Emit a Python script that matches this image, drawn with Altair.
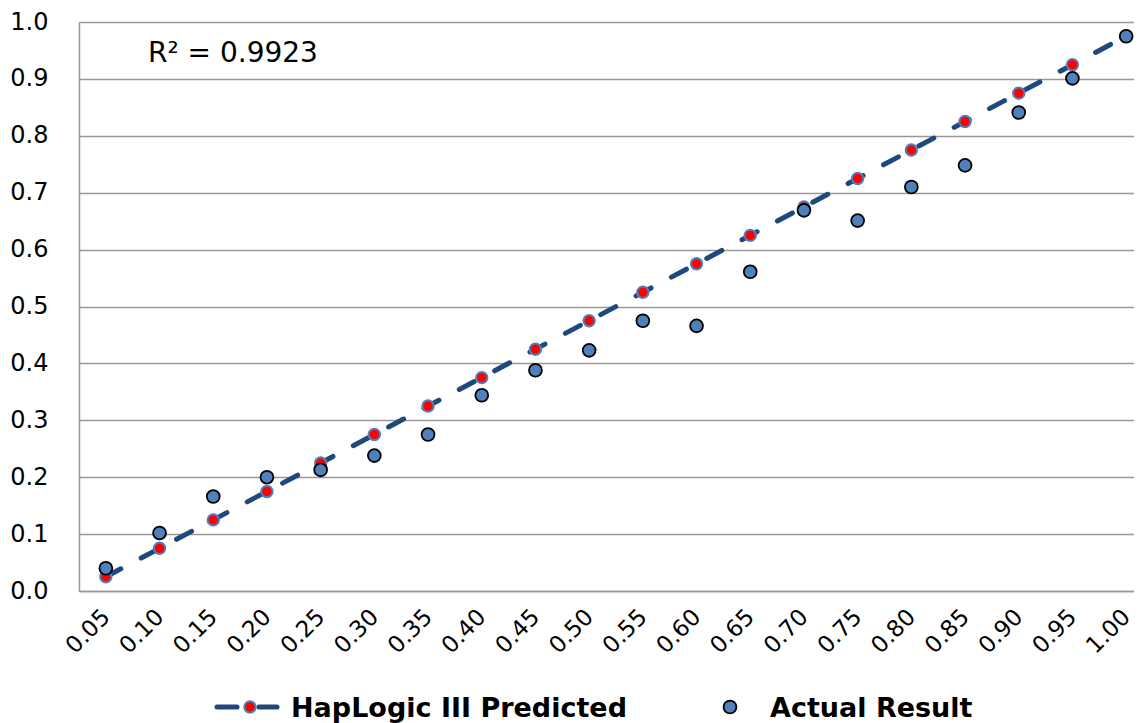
import altair as alt
import pandas as pd

# ---- data ----
categories = ["0.05", "0.10", "0.15", "0.20", "0.25", "0.30", "0.35", "0.40", "0.45", "0.50",
              "0.55", "0.60", "0.65", "0.70", "0.75", "0.80", "0.85", "0.90", "0.95", "1.00"]
predicted = [0.025, 0.075, 0.125, 0.175, 0.225, 0.275, 0.325, 0.375, 0.425, 0.475,
             0.525, 0.575, 0.625, 0.675, 0.725, 0.775, 0.825, 0.875, 0.925, 0.975]
actual = [0.040, 0.102, 0.166, 0.200, 0.213, 0.238, 0.275, 0.344, 0.388, 0.423,
          0.475, 0.466, 0.561, 0.669, 0.651, 0.710, 0.748, 0.841, 0.901, 0.975]
y_ticks = [0.0, 0.1, 0.2, 0.3, 0.4, 0.5, 0.6, 0.7, 0.8, 0.9, 1.0]
r2_label = ["R² = 0.9923"]
legend_labels = ["HapLogic III Predicted", "Actual Result"]

df = pd.DataFrame({"cat": categories, "predicted": predicted, "actual": actual})

FONT = "DejaVu Sans"
GRID = "#989898"
LINE_BLUE = "#1F497D"
MID_BLUE = "#4F81BD"
W, H = 1055, 569

x_enc = alt.X(
    "cat:O", sort=categories,
    scale=alt.Scale(type="point", range=[0, 1074], padding=0.5),
    axis=alt.Axis(title=None, labelAngle=-45, labelAlign="right", labelBaseline="middle",
                  labelPadding=22, ticks=False, domainColor=GRID, domainWidth=1.5,
                  labelFont=FONT, labelFontSize=23, labelColor="black", grid=False),
)
y_axis = alt.Axis(title=None, values=y_ticks, format=".1f", ticks=False, labelPadding=31,
                  domainColor=GRID, domainWidth=1.5, gridColor=GRID, gridWidth=1.5,
                  labelFont=FONT, labelFontSize=24, labelColor="black")
y_scale = alt.Scale(domain=[0, 1], nice=False)

base = alt.Chart(df)

line = base.mark_line(color=LINE_BLUE, strokeWidth=5, strokeDash=[17, 23], strokeCap="round").encode(
    x=x_enc, y=alt.Y("predicted:Q", scale=y_scale, axis=y_axis)
)
pred_pts = base.mark_circle(color="#FF0000", stroke=MID_BLUE, strokeWidth=2, size=130, opacity=1).encode(
    x=x_enc, y=alt.Y("predicted:Q", scale=y_scale, axis=y_axis)
)
act_pts = base.mark_circle(color=MID_BLUE, stroke="black", strokeWidth=1.8, size=165, opacity=1).encode(
    x=x_enc, y=alt.Y("actual:Q", scale=y_scale, axis=y_axis)
)

r2 = alt.Chart(pd.DataFrame({"t": r2_label})).mark_text(
    align="left", baseline="alphabetic", font=FONT, fontSize=28, color="black"
).encode(text="t:N", x=alt.value(69), y=alt.value(40))

# ---- manual legend below the axis ----
one = pd.DataFrame({"t": [legend_labels[0]]})
two = pd.DataFrame({"t": [legend_labels[1]]})
leg_dash1 = alt.Chart(one).mark_rule(color=LINE_BLUE, strokeWidth=5, strokeCap="round").encode(
    x=alt.value(138), x2=alt.value(158), y=alt.value(685))
leg_dash2 = alt.Chart(one).mark_rule(color=LINE_BLUE, strokeWidth=5, strokeCap="round").encode(
    x=alt.value(180), x2=alt.value(198), y=alt.value(685))
leg_pt1 = alt.Chart(one).mark_circle(color="#FF0000", stroke=MID_BLUE, strokeWidth=2, size=130, opacity=1).encode(
    x=alt.value(171), y=alt.value(685))
leg_txt1 = alt.Chart(one).mark_text(align="left", baseline="alphabetic", font=FONT, fontSize=27,
                                    fontWeight="bold", color="black").encode(
    text="t:N", x=alt.value(212), y=alt.value(695))
leg_pt2 = alt.Chart(two).mark_circle(color=MID_BLUE, stroke="black", strokeWidth=1.8, size=165, opacity=1).encode(
    x=alt.value(651), y=alt.value(685))
leg_txt2 = alt.Chart(two).mark_text(align="left", baseline="alphabetic", font=FONT, fontSize=27,
                                    fontWeight="bold", color="black").encode(
    text="t:N", x=alt.value(691), y=alt.value(695))

chart = alt.layer(
    line, pred_pts, act_pts, r2,
    leg_dash1, leg_dash2, leg_pt1, leg_txt1, leg_pt2, leg_txt2,
).properties(
    width=W, height=H,
    autosize=alt.AutoSizeParams(type="none"),
    padding={"left": 71, "top": 14, "right": 0, "bottom": 134},
    background="white",
).configure_view(stroke=None)

chart.save("out.html", embed_options={"renderer": "svg", "actions": False})
